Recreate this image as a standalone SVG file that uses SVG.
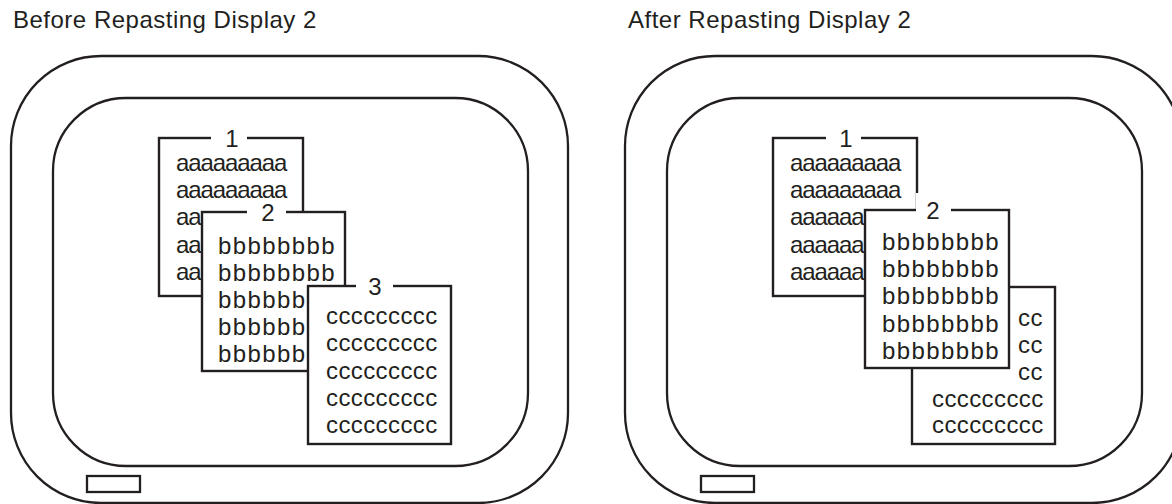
<svg xmlns="http://www.w3.org/2000/svg" width="1172" height="504" viewBox="0 0 1172 504">
<style>
.frame{fill:none;stroke:#231f20;stroke-width:2.3}
.win{fill:#fff;stroke:#231f20;stroke-width:2.4}
.bg{fill:#fff;stroke:none}
.title{font-family:"Liberation Sans",Arial,sans-serif;font-size:24px;fill:#231f20;letter-spacing:0.5px}
.lbl{font-family:"Liberation Sans",Arial,sans-serif;font-size:24px;fill:#231f20;text-anchor:middle}
.ta{font-family:"Liberation Sans",Arial,sans-serif;font-size:24px;fill:#231f20;letter-spacing:-1.1px}
.tb{font-family:"Liberation Sans",Arial,sans-serif;font-size:24px;fill:#231f20;letter-spacing:1.4px}
.tc{font-family:"Liberation Sans",Arial,sans-serif;font-size:24px;fill:#231f20;letter-spacing:0.4px}
</style>
<rect width="1172" height="504" fill="#fff"/>

<g id="panel-before">
  <text class="title" x="13" y="28">Before Repasting Display 2</text>
  <rect class="frame" x="11" y="56" width="557" height="447" rx="90"/>
  <rect class="frame" x="53" y="98" width="475" height="368" rx="73"/>
  <rect class="frame" x="87" y="476" width="53" height="16"/>
</g>

<g id="before-window-1">
  <rect class="win" x="159" y="138" width="144" height="158"/>
  <rect class="bg" x="211" y="129" width="36" height="18"/>
  <text class="lbl" x="232" y="146.5">1</text>
  <text class="ta" x="176" y="171">aaaaaaaaa</text>
  <text class="ta" x="176" y="198">aaaaaaaaa</text>
  <text class="ta" x="176" y="225">aa</text>
  <text class="ta" x="176" y="253">aa</text>
  <text class="ta" x="176" y="280">aa</text>
</g>

<g id="before-window-2">
  <rect class="win" x="202" y="212" width="143" height="159"/>
  <rect class="bg" x="247" y="203" width="39" height="18"/>
  <text class="lbl" x="268" y="221">2</text>
  <text class="tb" x="218" y="254">bbbbbbbb</text>
  <text class="tb" x="218" y="281">bbbbbbbb</text>
  <text class="tb" x="218" y="308">bbbbbb</text>
  <text class="tb" x="218" y="335">bbbbbb</text>
  <text class="tb" x="218" y="362">bbbbbb</text>
</g>

<g id="before-window-3">
  <rect class="win" x="308" y="286" width="143" height="158"/>
  <rect class="bg" x="356" y="277" width="37" height="18"/>
  <text class="lbl" x="375" y="294.5">3</text>
  <text class="tc" x="326" y="324">ccccccccc</text>
  <text class="tc" x="326" y="351">ccccccccc</text>
  <text class="tc" x="326" y="379">ccccccccc</text>
  <text class="tc" x="326" y="406">ccccccccc</text>
  <text class="tc" x="326" y="433">ccccccccc</text>
</g>

<g id="panel-after">
  <text class="title" x="628" y="28">After Repasting Display 2</text>
  <rect class="frame" x="625" y="56" width="557" height="447" rx="90"/>
  <rect class="frame" x="667" y="98" width="475" height="368" rx="73"/>
  <rect class="frame" x="701" y="476" width="53" height="16"/>
</g>

<g id="after-window-1">
  <rect class="win" x="773" y="138" width="144" height="158"/>
  <rect class="bg" x="826" y="129" width="35" height="18"/>
  <text class="lbl" x="846" y="146.5">1</text>
  <text class="ta" x="790" y="171">aaaaaaaaa</text>
  <text class="ta" x="790" y="198">aaaaaaaaa</text>
  <text class="ta" x="790" y="225">aaaaaa</text>
  <text class="ta" x="790" y="253">aaaaaa</text>
  <text class="ta" x="790" y="280">aaaaaa</text>
</g>

<g id="after-window-3">
  <rect class="win" x="912" y="287" width="143" height="157"/>
  <text class="tc" x="1018" y="326">cc</text>
  <text class="tc" x="1018" y="353">cc</text>
  <text class="tc" x="1018" y="380">cc</text>
  <text class="tc" x="932" y="407">ccccccccc</text>
  <text class="tc" x="932" y="433">ccccccccc</text>
</g>

<g id="after-window-2">
  <rect class="win" x="865" y="210" width="144" height="158"/>
  <rect class="bg" x="916" y="193" width="35" height="26"/>
  <text class="lbl" x="933" y="218.5">2</text>
  <text class="tb" x="882" y="250">bbbbbbbb</text>
  <text class="tb" x="882" y="277">bbbbbbbb</text>
  <text class="tb" x="882" y="304">bbbbbbbb</text>
  <text class="tb" x="882" y="332">bbbbbbbb</text>
  <text class="tb" x="882" y="359">bbbbbbbb</text>
</g>

<g id="connectors"></g>
</svg>
